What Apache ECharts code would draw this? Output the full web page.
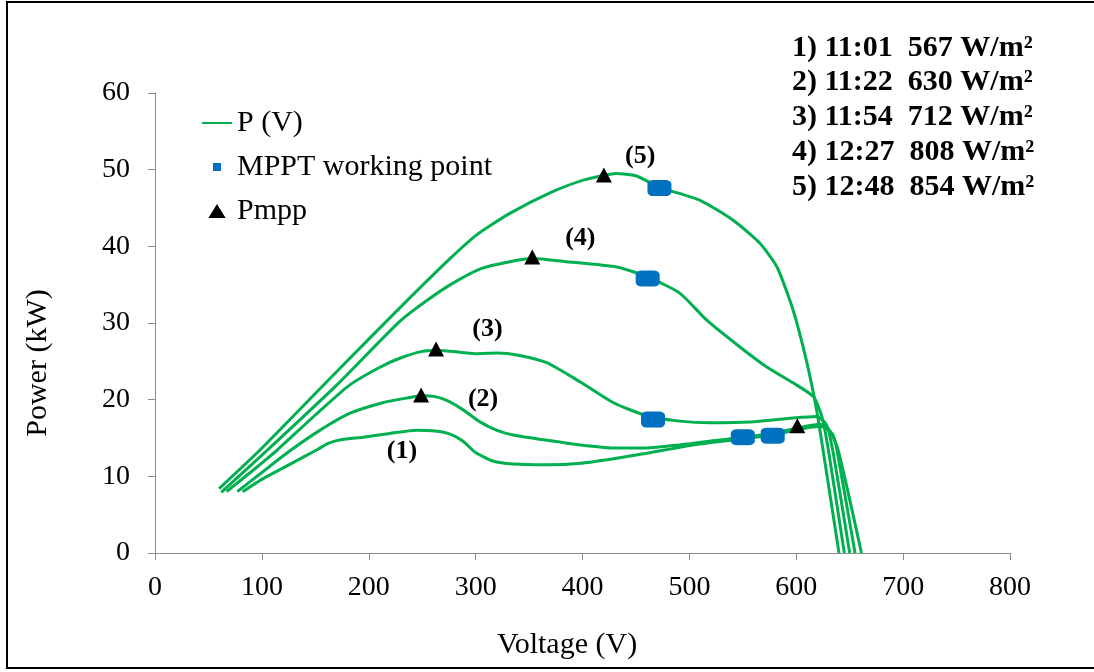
<!DOCTYPE html>
<html>
<head>
<meta charset="utf-8">
<script src="https://cdn.jsdelivr.net/npm/echarts@6/dist/echarts.min.js"></script>
<style>
  html, body { margin: 0; padding: 0; background: #fff; }
  #chart { width: 1094px; height: 672px; }
</style>
</head>
<body>
<div id="chart"></div>
<script>
// P-V curves of the PV array, [voltage (V), power (kW)]
const curve1 = [[82,8.0],[100,9.6],[120,11.1],[140,12.6],[152,13.5],[162,14.3],[175,14.8],[195,15.1],[220,15.6],[245,16.0],[262,15.9],[276,15.5],[288,14.6],[300,13.1],[316,12.0],[335,11.6],[367,11.5],[398,11.7],[429,12.3],[460,13.0],[491,13.8],[520,14.4],[550,14.9],[578,15.4],[601,16.1],[620,16.5],[630,16.2],[639,13.5],[661,0]];
const curve2 = [[77,8.0],[100,10.5],[125,13.2],[152,15.8],[182,18.2],[213,19.6],[235,20.2],[250,20.5],[262,20.4],[273,19.9],[288,18.7],[304,17.1],[320,16.0],[335,15.4],[367,14.7],[398,14.1],[429,13.7],[460,13.7],[491,14.1],[520,14.6],[550,15.1],[578,15.6],[601,16.3],[622,16.8],[634,15.5],[638,13.5],[655,0]];
const curve3 = [[67,8.0],[90,10.6],[114,13.4],[150,18.0],[182,21.9],[210,24.2],[229,25.4],[250,26.3],[265,26.4],[285,26.2],[301,26.0],[320,26.1],[340,25.8],[367,24.8],[398,22.3],[429,19.6],[460,17.9],[491,17.2],[520,17.0],[557,17.1],[597,17.6],[619,17.8],[628,16.8],[634,13.5],[650,0]];
const curve4 = [[62,7.9],[105,13.4],[170,21.9],[229,30.2],[255,33.0],[280,35.3],[305,37.1],[332,38.0],[353,38.4],[385,38.0],[432,37.3],[461,36.0],[491,33.9],[516,30.4],[547,26.9],[572,24.3],[597,22.2],[616,20.4],[624,17.8],[630,13.5],[645,0]];
const curve5 = [[60,8.4],[98,13.4],[150,20.8],[200,27.9],[240,33.5],[276,38.4],[301,41.5],[332,44.3],[370,47.0],[400,48.6],[432,49.5],[450,49.2],[472,47.7],[510,46.0],[541,43.4],[566,40.4],[582,37.3],[597,31.7],[610,24.8],[619,18.7],[625,13.5],[640,0]];
const curves = [curve1, curve2, curve3, curve4, curve5];

// MPPT working points (curves 1..5)
const mpptV = [578, 550, 466, 461, 472];
const mpptP = [15.3, 15.1, 17.4, 35.8, 47.6];

// Maximum power points (curves 1..5)
const pmppV = [601, 249, 263, 353, 420];
const pmppP = [16.6, 20.6, 26.6, 38.6, 49.3];

// Curve tags
const tagText = ['(1)', '(2)', '(3)', '(4)', '(5)'];
const tagV = [231, 307, 311, 398, 454];
const tagP = [13.3, 20.1, 29.2, 41.1, 51.8];

// Measurement time and irradiance for each curve
const notes = [
  '1) 11:01  567 W/m²',
  '2) 11:22  630 W/m²',
  '3) 11:54  712 W/m²',
  '4) 12:27  808 W/m²',
  '5) 12:48  854 W/m²'
];

const GREEN = '#00b050';
const BLUE = '#0070c0';
const AXIS_GRAY = '#8c8c8c';
const SERIF = '"Liberation Serif", "Times New Roman", serif';

const chart = echarts.init(document.getElementById('chart'), null, { renderer: 'canvas' });

const lineSeries = curves.map(c => ({
  type: 'line',
  name: 'P (V)',
  data: c,
  symbol: 'none',
  smooth: 0.2,
  lineStyle: { color: GREEN, width: 3 },
  itemStyle: { color: GREEN },
  z: 2,
  silent: true
}));

const option = {
  animation: false,
  backgroundColor: '#fff',
  grid: { left: 155, right: 84, top: 93, bottom: 119 },
  xAxis: {
    type: 'value',
    min: 0, max: 800, interval: 100,
    axisLine: { show: true, lineStyle: { color: AXIS_GRAY, width: 1 } },
    axisTick: { show: true, length: 7, lineStyle: { color: AXIS_GRAY } },
    splitLine: { show: false },
    axisLabel: { color: '#000', fontSize: 28, fontFamily: SERIF, margin: 21 }
  },
  yAxis: {
    type: 'value',
    min: 0, max: 60, interval: 10,
    axisLine: { show: true, lineStyle: { color: AXIS_GRAY, width: 1 } },
    axisTick: { show: true, length: 7, lineStyle: { color: AXIS_GRAY } },
    splitLine: { show: false },
    axisLabel: { color: '#000', fontSize: 28, fontFamily: SERIF, margin: 25 }
  },
  legend: {
    orient: 'vertical',
    left: 201,
    top: 108,
    padding: 0,
    itemWidth: 30,
    itemHeight: 14,
    itemGap: 14,
    selectedMode: false,
    textStyle: { color: '#000', fontSize: 30, fontFamily: SERIF },
    data: [
      { name: 'P (V)', itemStyle: { opacity: 0 } },
      { name: 'MPPT working point', icon: 'path://M-3,-3M0,0L8,0L8,8L0,8ZM11,11' },
      { name: 'Pmpp', icon: 'path://M8,0L16,13L0,13Z' }
    ]
  },
  series: lineSeries.concat([
    {
      type: 'scatter',
      name: 'MPPT working point',
      data: mpptV.map((v, i) => [v, mpptP[i]]),
      symbol: 'roundRect',
      symbolSize: [24, 16],
      itemStyle: { color: BLUE, opacity: 1 },
      z: 3,
      silent: true
    },
    {
      type: 'scatter',
      name: 'Pmpp',
      data: pmppV.map((v, i) => [v, pmppP[i]]),
      symbol: 'triangle',
      symbolSize: [16, 15],
      itemStyle: { color: '#000', opacity: 1 },
      z: 4,
      silent: true
    },
    {
      type: 'scatter',
      name: 'tags',
      data: tagV.map((v, i) => [v, tagP[i]]),
      symbolSize: 0,
      itemStyle: { color: 'transparent', opacity: 1 },
      label: {
        show: true,
        position: 'inside',
        formatter: p => tagText[p.dataIndex],
        color: '#000',
        opacity: 1,
        textBorderWidth: 0,
        fontSize: 26,
        fontWeight: 'bold',
        fontFamily: SERIF
      },
      z: 5,
      silent: true
    }
  ]),
  graphic: [
    {
      type: 'rect',
      silent: true,
      shape: { x: 7, y: 2, width: 1100, height: 666 },
      style: { fill: 'none', stroke: '#000', lineWidth: 2 }
    },
    {
      type: 'text',
      x: 38, y: 363,
      rotation: Math.PI / 2,
      silent: true,
      style: { text: 'Power (kW)', fill: '#000', fontSize: 30, fontFamily: SERIF, align: 'center', verticalAlign: 'middle' }
    },
    {
      type: 'text',
      x: 567, y: 645,
      silent: true,
      style: { text: 'Voltage (V)', fill: '#000', fontSize: 30, fontFamily: SERIF, align: 'center', verticalAlign: 'middle' }
    }
  ].concat(notes.map((t, i) => ({
    type: 'text',
    x: 792, y: 48 + 34.7 * i,
    silent: true,
    style: { text: t, fill: '#000', fontSize: 30, fontWeight: 'bold', fontFamily: SERIF, align: 'left', verticalAlign: 'middle' }
  })))
};

chart.setOption(option);
</script>
</body>
</html>
